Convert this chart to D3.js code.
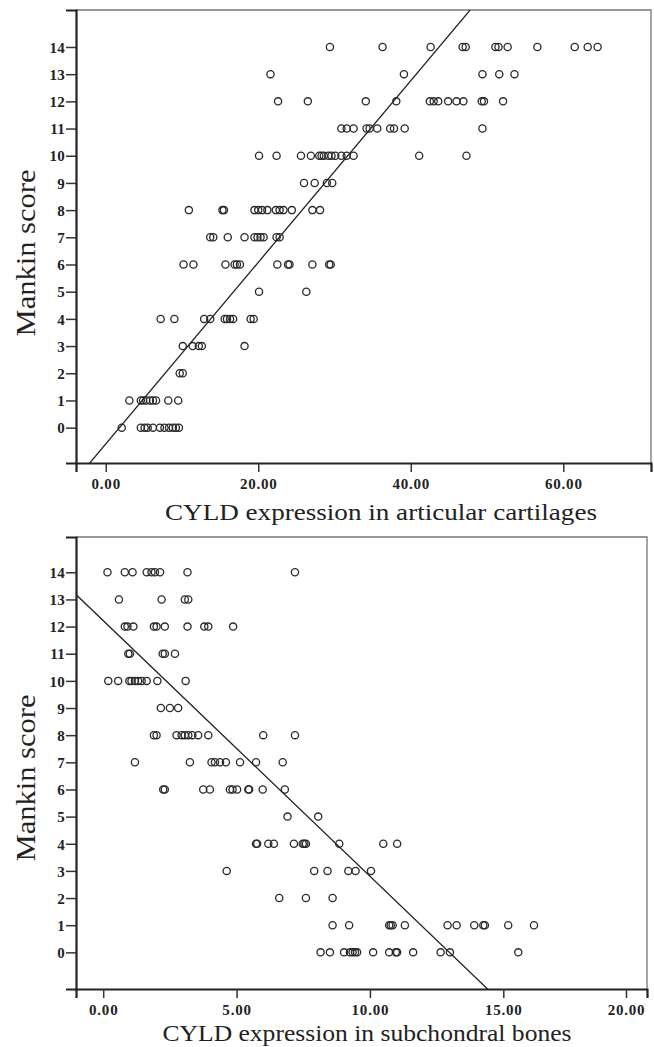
<!DOCTYPE html>
<meta charset="utf-8">
<script src="https://d3js.org/d3.v7.min.js"></script>
<style>
  body { margin: 0; background: #fff; }
</style>
<div id="my_dataviz"></div>
<script>

// Mankin score categories (y values) and ticks
var scoreTicks = [0,1,2,3,4,5,6,7,8,9,10,11,12,13,14];

// top chart: CYLD expression in articular cartilages, by Mankin score row
var cartilageRows = [
  [0, [2.1, 4.6, 5.1, 5.5, 6.2, 7.1, 7.7, 8.3, 8.8, 9.2, 9.6]],
  [1, [3.1, 4.6, 4.9, 5.3, 5.8, 6.2, 6.6, 8.2, 9.5]],
  [2, [9.7, 10.1]],
  [3, [10.1, 11.4, 12.2, 12.6, 18.2]],
  [4, [7.2, 9.0, 12.9, 13.7, 15.6, 15.9, 16.3, 16.7, 19.0, 19.4]],
  [5, [20.1, 26.3]],
  [6, [10.2, 11.5, 15.7, 16.9, 17.2, 17.6, 22.5, 23.9, 24.1, 27.1, 29.3, 29.5]],
  [7, [13.7, 14.1, 16.0, 18.2, 19.5, 19.9, 20.3, 20.7, 22.4, 22.8]],
  [8, [10.9, 15.3, 15.5, 19.5, 20.0, 20.5, 21.2, 22.3, 22.8, 23.3, 24.4, 27.1, 28.1]],
  [9, [26.0, 27.4, 29.0, 29.7]],
  [10, [20.1, 22.4, 25.6, 26.9, 28.0, 28.3, 28.6, 29.2, 29.6, 30.1, 30.9, 31.6, 32.5, 41.1, 47.3]],
  [11, [30.9, 31.6, 32.5, 34.2, 34.6, 35.6, 37.3, 37.8, 39.2, 49.4]],
  [12, [22.6, 26.5, 34.1, 38.1, 42.5, 43.0, 43.6, 44.9, 46.0, 46.9, 49.3, 49.6, 52.1]],
  [13, [21.6, 39.1, 49.4, 51.6, 53.6]],
  [14, [29.4, 36.3, 42.6, 46.8, 47.2, 51.1, 51.5, 52.7, 56.6, 61.5, 63.2, 64.5]]
];

// bottom chart: CYLD expression in subchondral bones, by Mankin score row
var boneRows = [
  [0, [8.15, 8.50, 9.03, 9.25, 9.35, 9.44, 9.52, 10.12, 10.72, 10.97, 11.02, 11.62, 12.65, 13.0, 15.61]],
  [1, [8.60, 9.22, 10.72, 10.78, 10.85, 11.31, 12.91, 13.25, 13.91, 14.25, 14.31, 15.2, 16.25]],
  [2, [6.60, 7.60, 8.60]],
  [3, [4.63, 7.91, 8.41, 9.19, 9.46, 10.04]],
  [4, [5.73, 5.77, 6.19, 6.40, 7.15, 7.48, 7.54, 7.60, 8.85, 10.5, 11.02]],
  [5, [6.91, 8.06]],
  [6, [2.25, 2.31, 3.75, 4.0, 4.75, 4.85, 5.02, 5.44, 5.47, 5.98, 6.81]],
  [7, [1.19, 3.25, 4.06, 4.19, 4.38, 4.60, 5.13, 5.73, 6.73]],
  [8, [1.90, 2.0, 2.75, 2.94, 3.06, 3.19, 3.34, 3.56, 3.94, 6.0, 7.19]],
  [9, [2.16, 2.5, 2.81]],
  [10, [0.19, 0.56, 0.98, 1.06, 1.19, 1.31, 1.44, 1.63, 2.03, 3.09]],
  [11, [0.94, 1.0, 2.23, 2.31, 2.69]],
  [12, [0.81, 0.91, 1.13, 1.90, 2.0, 2.31, 3.16, 3.79, 3.94, 4.87]],
  [13, [0.59, 2.19, 3.06, 3.19]],
  [14, [0.16, 0.81, 1.10, 1.63, 1.81, 1.94, 2.13, 3.16, 7.19]]
];

// fitted lines: [intercept, slope]
var cartilageFit = [-0.6, 0.334];
var boneFit = [12.22, -0.9417];

var cartilageTicks = [0, 20, 40, 60];
var boneTicks = [0, 5, 10, 15, 20];

var svg = d3.select("#my_dataviz")
    .append("svg")
    .attr("width", 654)
    .attr("height", 1047);

function flatten(rows) {
    var pts = [];
    rows.forEach(function(r) {
        r[1].forEach(function(v) { pts.push({x: v, y: r[0]}); });
    });
    return pts;
}

function styleTicks(sel) {
    sel.selectAll(".tick text")
        .style("font-family", "Liberation Serif, serif")
        .style("font-weight", "bold")
        .style("font-size", "15px")
        .style("letter-spacing", "0.8px")
        .attr("fill", "#222");
    sel.select(".domain").attr("stroke", "#222").attr("stroke-width", 2.2);
    sel.selectAll(".tick line").attr("stroke", "#333").attr("stroke-width", 1.5);
}

function drawPanel(opt) {
    // the x axis of the scanned chart is not quite uniform, so allow a piecewise domain
    var x = d3.scaleLinear().domain(opt.xDomain).range(opt.xRange);
    var y = d3.scaleLinear().domain(opt.yDomain).range([opt.bottom, opt.top]);
    var left = opt.xRange[0], right = opt.xRange[opt.xRange.length - 1];
    var g = svg.append("g");

    var clipId = "clip" + opt.id;
    g.append("clipPath").attr("id", clipId)
        .append("rect")
        .attr("x", left).attr("y", opt.top)
        .attr("width", right - left).attr("height", opt.bottom - opt.top);

    // frame (top & right)
    g.append("path")
        .attr("d", "M" + left + "," + opt.top + "H" + right + "V" + opt.bottom)
        .attr("fill", "none")
        .attr("stroke", "#777")
        .attr("stroke-width", 1.3);

    // points
    g.append("g")
        .selectAll("circle")
        .data(flatten(opt.rows))
        .enter()
        .append("circle")
        .attr("cx", function(d) { return x(d.x); })
        .attr("cy", function(d) { return y(d.y); })
        .attr("r", 3.6)
        .attr("fill", "none")
        .attr("stroke", "#2a2a2a")
        .attr("stroke-width", 1.3);

    // fit line, evaluated at each domain breakpoint
    var fitLine = d3.line()
        .x(function(d) { return x(d); })
        .y(function(d) { return y(opt.fit[0] + opt.fit[1] * d); });
    g.append("path")
        .attr("clip-path", "url(#" + clipId + ")")
        .attr("d", fitLine(opt.xDomain))
        .attr("fill", "none")
        .attr("stroke", "#222")
        .attr("stroke-width", 1.3);

    // axes
    var xa = g.append("g")
        .attr("transform", "translate(0," + opt.bottom + ")")
        .call(d3.axisBottom(x).tickValues(opt.xTicks).tickFormat(d3.format(".2f")).tickSize(9).tickPadding(6));
    styleTicks(xa);

    var ya = g.append("g")
        .attr("transform", "translate(" + left + ",0)")
        .call(d3.axisLeft(y).tickValues(scoreTicks).tickSize(10).tickPadding(1));
    styleTicks(ya);
    ya.selectAll(".tick text").attr("dy", "0.35em").style("letter-spacing", "0.3px");

    // titles
    g.append("text")
        .attr("x", opt.xTitle[1])
        .attr("y", opt.xTitle[2])
        .attr("text-anchor", "middle")
        .attr("textLength", opt.xTitle[3])
        .attr("lengthAdjust", "spacingAndGlyphs")
        .style("font-family", "Liberation Serif, serif")
        .style("font-size", "24px")
        .attr("fill", "#222")
        .text(opt.xTitle[0]);

    g.append("text")
        .attr("transform", "translate(" + opt.yTitle[0] + "," + opt.yTitle[1] + ") rotate(-90)")
        .attr("text-anchor", "middle")
        .attr("textLength", 167)
        .attr("lengthAdjust", "spacingAndGlyphs")
        .style("font-family", "Liberation Serif, serif")
        .style("font-size", "27px")
        .attr("fill", "#222")
        .text("Mankin score");
}

drawPanel({
    id: 1, rows: cartilageRows, fit: cartilageFit, xTicks: cartilageTicks,
    xDomain: [-3.9, 71.5], xRange: [76, 651], yDomain: [-1.3, 15.36],
    top: 10, bottom: 463,
    xTitle: ["CYLD expression in articular cartilages", 381, 520, 432],
    yTitle: [35, 253]
});

drawPanel({
    id: 2, rows: boneRows, fit: boneFit, xTicks: boneTicks,
    xDomain: [-1.02, 15, 20, 20.86], xRange: [76, 503.3, 626, 647], yDomain: [-1.35, 15.3],
    top: 537, bottom: 989,
    xTitle: ["CYLD expression in subchondral bones", 367, 1041, 409],
    yTitle: [35, 778]
});

</script>
